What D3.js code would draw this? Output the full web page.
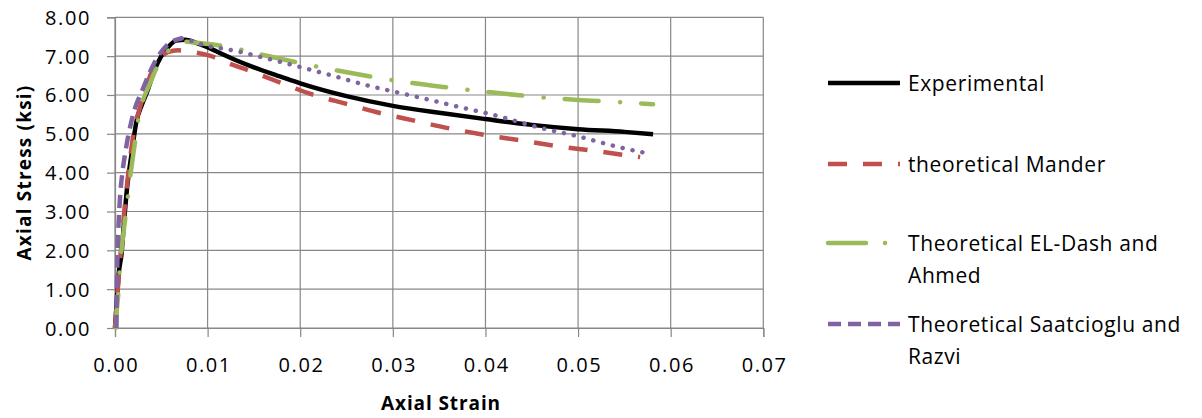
<!DOCTYPE html>
<html>
<head>
<meta charset="utf-8">
<script src="https://cdn.jsdelivr.net/npm/d3@7/dist/d3.min.js"></script>
<style>
  html, body { margin: 0; padding: 0; background: #fff; }
  svg { display: block; }
  text { font-family: "Open Sans", "DejaVu Sans", sans-serif; fill: #000; }
</style>
</head>
<body>
<svg id="chart" width="1202" height="418"></svg>
<script>
// Stress-strain curves of confined concrete: test result vs. three models
const expStrain = [0, 0.0002, 0.0004, 0.0007, 0.0010, 0.0013, 0.0018, 0.0023, 0.0029, 0.0035, 0.0042, 0.0050, 0.0058, 0.0066, 0.0076, 0.0090, 0.0101, 0.0115, 0.0130, 0.0150, 0.0175, 0.0200, 0.0250, 0.0300, 0.0350, 0.0400, 0.0450, 0.0500, 0.0550, 0.0581];
const expStress = [0, 0.7, 1.4, 1.9, 2.8, 3.6, 4.5, 5.3, 5.75, 6.1, 6.6, 7.0, 7.25, 7.40, 7.42, 7.32, 7.22, 7.06, 6.90, 6.71, 6.50, 6.30, 5.97, 5.72, 5.54, 5.38, 5.23, 5.12, 5.05, 4.99];

const manStrain = [0, 0.0003, 0.0006, 0.0010, 0.0015, 0.0020, 0.0026, 0.0031, 0.0038, 0.0046, 0.0057, 0.0068, 0.0085, 0.0104, 0.0120, 0.0140, 0.0176, 0.0212, 0.0250, 0.0287, 0.0323, 0.0363, 0.0400, 0.0438, 0.0478, 0.0515, 0.0554, 0.0567];
const manStress = [0, 1.0, 1.9, 3.0, 4.1, 5.0, 5.6, 6.0, 6.5, 6.85, 7.1, 7.15, 7.10, 7.0, 6.84, 6.67, 6.34, 6.02, 5.77, 5.53, 5.34, 5.13, 4.97, 4.83, 4.68, 4.57, 4.44, 4.40];

const gdStrain = [0.0001, 0.00018, 0.00036, 0.0005, 0.0007, 0.0012, 0.0017, 0.0022, 0.0025, 0.0030, 0.0036, 0.0045, 0.0056, 0.0066, 0.0076, 0.0090, 0.0117, 0.0137, 0.0160, 0.0200, 0.0240, 0.0280, 0.0320, 0.0364, 0.0405, 0.0446, 0.0500, 0.0549, 0.0581];
const gdStress = [0, 0.4, 0.9, 1.5, 2.0, 3.0, 4.0, 4.85, 5.35, 5.85, 6.2, 6.7, 7.1, 7.3, 7.37, 7.34, 7.26, 7.16, 7.03, 6.82, 6.63, 6.46, 6.31, 6.18, 6.07, 5.97, 5.87, 5.81, 5.76];

const srStrain = [0.00015, 0.0002, 0.0003, 0.0005, 0.0008, 0.0011, 0.0018, 0.0031, 0.0043, 0.0056, 0.0072, 0.0081, 0.0097, 0.0127, 0.0164, 0.0200, 0.0236, 0.0272, 0.0306, 0.0328, 0.0370, 0.0413, 0.0455, 0.0499, 0.0542, 0.0574];
const srStress = [0, 1.0, 2.1, 3.2, 4.0, 4.5, 5.35, 6.21, 6.85, 7.28, 7.46, 7.40, 7.28, 7.15, 6.94, 6.72, 6.49, 6.25, 6.06, 5.94, 5.70, 5.46, 5.18, 4.94, 4.67, 4.50];

const seriesNames = ["Experimental", "theoretical Mander", "Theoretical EL-Dash and Ahmed", "Theoretical Saatcioglu and Razvi"];
const legendLines = [["Experimental"], ["theoretical Mander"], ["Theoretical EL-Dash and", "Ahmed"], ["Theoretical Saatcioglu and", "Razvi"]];
const xTicks = [0, 0.01, 0.02, 0.03, 0.04, 0.05, 0.06, 0.07];
const yTicks = [0, 1, 2, 3, 4, 5, 6, 7, 8];
const xTitle = "Axial Strain";
const yTitle = "Axial Stress (ksi)";

const zip = (xs, ys) => xs.map((x, i) => ({ x, y: ys[i] }));
const series = [
  { name: seriesNames[0], pts: zip(expStrain, expStress), color: "#000000", dash: null },
  { name: seriesNames[1], pts: zip(manStrain, manStress), color: "#C0504D", dash: "19,16" },
  { name: seriesNames[2], pts: zip(gdStrain, gdStress), color: "#9BBB59", dash: "34,21.5,0.1,21", legendDash: "38,19,0.1,30", cap: "round" },
  { name: seriesNames[3], pts: zip(srStrain, srStress), color: "#8064A2", dash: "13,7", tailDash: "0.1,10" }
];

const svg = d3.select("#chart");
const plot = { left: 115, right: 763.3, top: 17.3, bottom: 328 };
const gridColor = "#878787";

const x = d3.scaleLinear().domain([0, 0.07]).range([plot.left, plot.right]);
const y = d3.scaleLinear().domain([0, 8]).range([plot.bottom, plot.top]);

// grid
const grid = svg.append("g");
grid.selectAll("line.h").data(yTicks).join("line")
  .attr("x1", plot.left).attr("x2", plot.right)
  .attr("y1", d => y(d)).attr("y2", d => y(d))
  .attr("stroke", gridColor).attr("stroke-width", 1.2);
grid.selectAll("line.v").data(xTicks).join("line")
  .attr("x1", d => x(d)).attr("x2", d => x(d))
  .attr("y1", plot.top).attr("y2", plot.bottom)
  .attr("stroke", gridColor).attr("stroke-width", 1.2);

// axes
const fmt = d3.format(".2f");
const yAxis = svg.append("g").attr("transform", `translate(${plot.left},0)`)
  .call(d3.axisLeft(y).tickValues(yTicks).tickFormat(fmt).tickSize(8));
const xAxis = svg.append("g").attr("transform", `translate(0,${plot.bottom})`)
  .call(d3.axisBottom(x).tickValues(xTicks).tickFormat(fmt).tickSize(9));
[yAxis, xAxis].forEach(g => {
  g.selectAll("path.domain").attr("stroke", gridColor).attr("stroke-width", 1.2);
  g.selectAll(".tick line").attr("stroke", gridColor).attr("stroke-width", 1.2);
  g.selectAll("text").attr("fill", "#000").style("font-size", "20px")
    .style("font-family", "'Open Sans', sans-serif").style("letter-spacing", "1.6px");
});
yAxis.selectAll("text").attr("dy", null).attr("y", 7).attr("x", -24);
xAxis.selectAll("text").attr("dy", null).attr("y", 43.5).attr("dx", "0.8px");

// axis titles
svg.append("text").attr("x", 441).attr("y", 410).attr("text-anchor", "middle")
  .style("font-size", "19px").style("font-weight", "bold").style("letter-spacing", "0.9px")
  .text(xTitle);
svg.append("text").attr("transform", "translate(31,172.5) rotate(-90)").attr("text-anchor", "middle")
  .style("font-size", "19px").style("font-weight", "bold").style("letter-spacing", "1.2px")
  .text(yTitle);

// curves
const line = d3.line().x(d => x(d.x)).y(d => y(d.y)).curve(d3.curveMonotoneX);
const curves = svg.append("g");
series.forEach(s => {
  if (s.tailDash) {
    // dashed up to the peak, dotted on the softening branch
    const peak = d3.maxIndex(s.pts, d => d.y);
    curves.append("path").datum(s.pts.slice(0, peak + 1)).attr("d", line)
      .attr("fill", "none").attr("stroke", s.color).attr("stroke-width", 4.5)
      .attr("stroke-dasharray", s.dash);
    curves.append("path").datum(s.pts.slice(peak)).attr("d", line)
      .attr("fill", "none").attr("stroke", s.color).attr("stroke-width", 4.5)
      .attr("stroke-linecap", "round").attr("stroke-dasharray", s.tailDash);
  } else {
    curves.append("path").datum(s.pts).attr("d", line)
      .attr("fill", "none").attr("stroke", s.color).attr("stroke-width", 4.5)
      .attr("stroke-linecap", s.cap || "butt").attr("stroke-linejoin", "round")
      .attr("stroke-dasharray", s.dash);
  }
});

// legend
const legendY = [83, 164, 243, 324];
const leg = svg.append("g");
series.forEach((s, i) => {
  const g = leg.append("g").attr("transform", `translate(0,${legendY[i]})`);
  g.append("line").attr("x1", 828).attr("x2", 900).attr("y1", 0).attr("y2", 0)
    .attr("stroke", s.color).attr("stroke-width", 4.5)
    .attr("stroke-linecap", s.cap || "butt")
    .attr("stroke-dasharray", s.legendDash || s.dash);
  legendLines[i].forEach((t, j) => {
    g.append("text").attr("x", 908).attr("y", 8 + j * 31.6)
      .style("font-size", "21px").style("letter-spacing", "0.6px").text(t);
  });
});
</script>
</body>
</html>
